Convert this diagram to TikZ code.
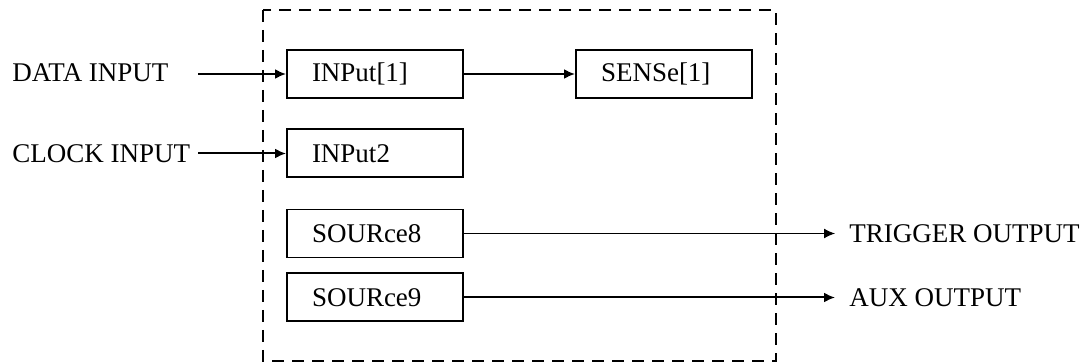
\documentclass[tikz,border=0pt]{standalone}
\usepackage{fontspec}
\setmainfont{Liberation Serif}
\usetikzlibrary{arrows.meta}
\begin{document}
\begin{tikzpicture}[x=0.5pt,y=-0.5pt,
  font=\fontsize{13.5}{15}\selectfont,
  block/.style={draw,line width=1pt,minimum height=24pt,
    text width=63pt,align=left,inner xsep=12.5pt,inner ysep=0pt},
  thinblock/.style={block,line width=0.6pt},
  lbl/.style={inner sep=0pt,anchor=west},
  wire/.style={line width=1pt,-{Latex[length=5.5pt,width=5pt]}},
  thinwire/.style={line width=0.6pt,-{Latex[length=5.5pt,width=5pt]}},
  frame/.style={draw,line width=0.9pt,dash pattern=on 6pt off 4pt}]
\useasboundingbox (0,0) rectangle (1088,363);

% dashed enclosure
\draw[frame] (263,10) rectangle (776,361);

% function blocks
\node[block] (in1) at (375,74) {INPut[1]};
\node[block] (sense) at (664,74) {SENSe[1]};
\node[block] (in2) at (375,153.5) {INPut2};
\node[thinblock] (src8) at (375,233.5) {SOURce8};
\node[block] (src9) at (375,297.5) {SOURce9};

% external labels
\node[lbl] (data) at (12,73) {DATA INPUT};
\node[lbl] (clock) at (12,153.5) {CLOCK INPUT};
\node[lbl] (trig) at (849,233.5) {TRIGGER OUTPUT};
\node[lbl] (aux) at (849,297.5) {AUX OUTPUT};

% wire end points
\coordinate (dataS) at (198,74);
\coordinate (clockS) at (198,153.5);
\coordinate (trigE) at (835,233.5);
\coordinate (auxE) at (835,297.5);

% connections
\draw[wire] (dataS) -- (in1.west);
\draw[wire] (clockS) -- (in2.west);
\draw[wire] (in1.east) -- (sense.west);
\draw[thinwire] (src8.east) -- (trigE);
\draw[wire] (src9.east) -- (auxE);
\end{tikzpicture}
\end{document}
